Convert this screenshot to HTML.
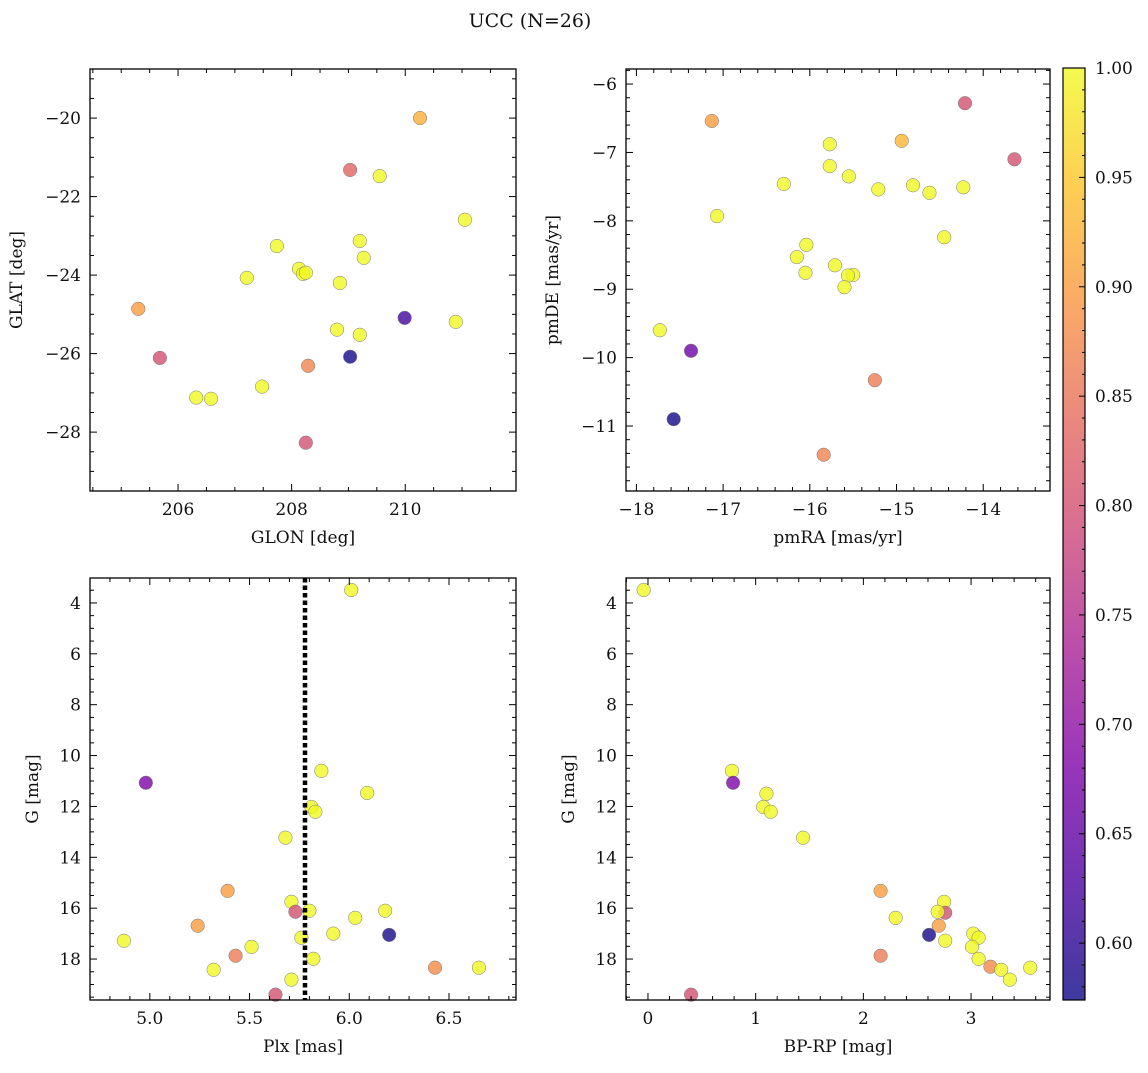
<!DOCTYPE html>
<html><head><meta charset="utf-8"><style>
body{margin:0;background:#fff;width:1148px;height:1068px;overflow:hidden}
svg text{font-family:"DejaVu Serif","Liberation Serif",serif;fill:#111}
</style></head><body>
<svg id="fig" width="1148" height="1068" xmlns="http://www.w3.org/2000/svg">
<text x="530" y="27" font-size="19" text-anchor="middle">UCC (N=26)</text>
</svg>
<script>
// Panel 1: GLON vs GLAT
const glon=[210.26,209.03,209.55,211.05,207.74,209.20,209.27,207.21,208.13,208.20,208.25,208.85,205.30,209.99,208.80,209.20,210.89,205.68,209.03,208.29,206.32,206.58,207.48,208.25];
const glat=[-20.00,-21.32,-21.48,-22.59,-23.26,-23.13,-23.56,-24.07,-23.84,-23.97,-23.94,-24.20,-24.86,-25.09,-25.39,-25.52,-25.19,-26.11,-26.08,-26.31,-27.12,-27.15,-26.84,-28.27];
const prob1=[0.92,0.83,1,1,1,1,1,1,1,1,1,1,0.90,0.62,1,1,1,0.80,0.58,0.87,1,1,1,0.80];
// Panel 2: pmRA vs pmDE
const pmra=[-17.13,-14.21,-13.64,-15.77,-14.94,-15.77,-15.55,-16.30,-15.21,-14.81,-14.62,-14.23,-17.07,-14.45,-16.04,-16.15,-16.05,-15.71,-15.50,-15.56,-15.60,-17.73,-17.37,-15.25,-17.57,-15.84];
const pmde=[-6.54,-6.28,-7.10,-6.88,-6.83,-7.20,-7.35,-7.46,-7.54,-7.48,-7.59,-7.51,-7.93,-8.24,-8.35,-8.53,-8.76,-8.65,-8.79,-8.80,-8.97,-9.60,-9.90,-10.33,-10.90,-11.42];
const prob2=[0.90,0.80,0.80,1,0.93,1,1,1,1,1,1,1,1,1,1,1,1,1,1,1,1,1,0.66,0.86,0.58,0.87];
// Panel 3/4: Plx, BP-RP vs G
const plx=[6.01,4.98,5.86,6.09,5.81,5.83,5.68,5.39,5.71,5.73,5.80,6.18,6.03,5.76,5.24,4.87,5.92,6.20,5.51,5.43,5.82,5.32,6.43,6.65,5.71,5.63];
const gmag3=[3.49,11.07,10.60,11.47,12.02,12.21,13.23,15.32,15.75,16.14,16.10,16.10,16.38,17.16,16.69,17.28,17.00,17.05,17.52,17.87,17.99,18.42,18.34,18.34,18.81,19.40];
const prob3=[1,0.68,1,1,1,1,1,0.90,1,0.80,1,1,1,1,0.90,1,1,0.58,1,0.86,1,1,0.88,1,1,0.80];
const bprp=[-0.04,0.78,0.79,1.10,1.07,1.14,1.44,2.16,2.75,2.76,2.69,2.30,2.70,2.61,2.76,3.02,3.07,3.01,3.07,2.16,3.18,3.28,3.55,3.36,0.40];
const gmag4=[3.49,10.60,11.07,11.50,12.02,12.21,13.23,15.32,15.75,16.18,16.14,16.38,16.69,17.05,17.28,17.00,17.16,17.52,17.99,17.87,18.30,18.42,18.34,18.81,19.40];
const prob4=[1,1,0.68,1,1,1,1,0.90,1,0.80,1,1,0.90,0.58,1,1,1,1,1,0.86,0.88,1,1,1,0.80];
const plxMean=5.778;
const cbTicks=[0.60,0.65,0.70,0.75,0.80,0.85,0.90,0.95,1.00];

const NS="http://www.w3.org/2000/svg";
const svg=document.getElementById('fig');
function mk(tag,attrs,parent){const e=document.createElementNS(NS,tag);for(const k in attrs)e.setAttribute(k,attrs[k]);(parent||svg).appendChild(e);return e;}
const stops=[[0,[13,8,135]],[0.125,[76,2,161]],[0.25,[126,3,168]],[0.375,[168,34,150]],[0.5,[204,71,120]],[0.625,[229,107,93]],[0.75,[248,149,64]],[0.875,[253,195,40]],[1,[240,249,33]]];
const CMIN=0.574,CMAX=1.0;
function plasma(t){t=Math.max(0,Math.min(1,t));for(let i=1;i<stops.length;i++){if(t<=stops[i][0]){const a=stops[i-1],b=stops[i];const f=(t-a[0])/(b[0]-a[0]);const c=a[1].map((v,j)=>Math.round(v+(b[1][j]-v)*f));return `rgb(${c})`;}}return 'rgb(240,249,33)';}
function col(v){return plasma((v-CMIN)/(CMAX-CMIN));}

function panel(name,box,xr,yr,xmaj,xmin,ymaj,ymin,xlab,ylab,ylx,xs,ys,cs,fmtx,fmty){
  const g=mk('g',{},svg);
  
  
  const X=v=>box.x+(v-xr[0])/(xr[1]-xr[0])*box.w;
  const Y=v=>box.y+(v-yr[0])/(yr[1]-yr[0])*box.h;
  const pts=mk('g',{},g);
  
  
  for(let i=0;i<xs.length;i++){
    const c=mk('circle',{cx:X(xs[i]),cy:Y(ys[i]),r:6.8,fill:col(cs[i]),'fill-opacity':0.8,stroke:'#777','stroke-width':0.5},pts);
    
    
  }
  const ax=mk('g',{},g);
  
  
  const t0=Math.ceil(xr[0]/xmin-1e-6);
  for(let k=t0;k*xmin<=xr[1]+1e-9;k++){const v=k*xmin;const isM=Math.abs(v/xmaj-Math.round(v/xmaj))<1e-6;const L=isM?7:4;const px=X(v);
    mk('line',{x1:px,x2:px,y1:box.y+box.h,y2:box.y+box.h-L,stroke:'#000','stroke-width':1},ax);
    mk('line',{x1:px,x2:px,y1:box.y,y2:box.y+L,stroke:'#000','stroke-width':1},ax);
    if(isM){const t=mk('text',{x:px,y:box.y+box.h+24,'font-size':17,'text-anchor':'middle'},ax);t.textContent=fmtx(v);}}
  const s0=Math.ceil(Math.min(yr[0],yr[1])/ymin-1e-6);const ymx=Math.max(yr[0],yr[1]);
  for(let k=s0;k*ymin<=ymx+1e-9;k++){const v=k*ymin;const isM=Math.abs(v/ymaj-Math.round(v/ymaj))<1e-6;const L=isM?7:4;const py=Y(v);
    mk('line',{x1:box.x,x2:box.x+L,y1:py,y2:py,stroke:'#000','stroke-width':1},ax);
    mk('line',{x1:box.x+box.w,x2:box.x+box.w-L,y1:py,y2:py,stroke:'#000','stroke-width':1},ax);
    if(isM){const t=mk('text',{x:box.x-9,y:py+6,'font-size':17,'text-anchor':'end'},ax);t.textContent=fmty(v);}}
  mk('rect',{x:box.x,y:box.y,width:box.w,height:box.h,fill:'none',stroke:'#000','stroke-width':1.3},ax);
  const xl=mk('text',{x:box.x+box.w/2,y:box.y+box.h+52,'font-size':17,'text-anchor':'middle'},g);xl.textContent=xlab;
  
  
  const yl=mk('text',{x:ylx,y:box.y+box.h/2,'font-size':17,'text-anchor':'middle',transform:`rotate(-90 ${ylx} ${box.y+box.h/2})`},g);yl.textContent=ylab;
  
  
  return {X,Y,g};
}
const neg=v=>(v<0?'\u2212':'')+Math.abs(Math.round(v));
const f1=v=>v.toFixed(1);
const fi=v=>String(Math.round(v));
panel('panel-glon-glat',{x:90,y:69,w:426,h:422},[204.45,211.95],[-18.75,-29.5],2,0.5,2,0.5,'GLON [deg]','GLAT [deg]',22,glon,glat,prob1,fi,neg);
panel('panel-pm',{x:626,y:69,w:424,h:422},[-18.12,-13.23],[-5.78,-11.95],1,0.2,1,0.2,'pmRA [mas/yr]','pmDE [mas/yr]',558,pmra,pmde,prob2,neg,neg);
const p3=panel('panel-plx-g',{x:90,y:578,w:426,h:422},[4.70,6.836],[3.02,19.61],0.5,0.1,2,0.5,'Plx [mas]','G [mag]',38,plx,gmag3,prob3,f1,fi);
const dl=mk('line',{x1:p3.X(plxMean),x2:p3.X(plxMean),y1:578,y2:1000,stroke:'#000','stroke-width':4.5,'stroke-dasharray':'4.5 3'},p3.g);


panel('panel-cmd',{x:626,y:578,w:424,h:422},[-0.204,3.733],[3.02,19.61],1,0.2,2,0.5,'BP-RP [mag]','G [mag]',574,bprp,gmag4,prob4,fi,fi);

// colorbar
const cb=mk('g',{},svg);


const defs=mk('defs',{},svg);const lg=mk('linearGradient',{id:'cbg',x1:0,y1:1,x2:0,y2:0},defs);
stops.forEach(s=>mk('stop',{offset:s[0],'stop-color':`rgb(${s[1]})`,'stop-opacity':0.8},lg));
const cbx=1063,cby=68,cbw=22,cbh=932;
mk('rect',{x:cbx,y:cby,width:cbw,height:cbh,fill:'url(#cbg)',stroke:'#000','stroke-width':1.2},cb);
const CY=v=>cby+cbh-(v-CMIN)/(CMAX-CMIN)*cbh;
for(let k=Math.ceil(CMIN*100);k<=100;k++){const v=k/100;const isM=k%5===0;const py=CY(v);
  mk('line',{x1:cbx+cbw,x2:cbx+cbw-(isM?6:3),y1:py,y2:py,stroke:'#000','stroke-width':1},cb);}
cbTicks.forEach(v=>{const t=mk('text',{x:cbx+cbw+10,y:CY(v)+6,'font-size':17},cb);t.textContent=v.toFixed(2);});
</script>
</body></html>
